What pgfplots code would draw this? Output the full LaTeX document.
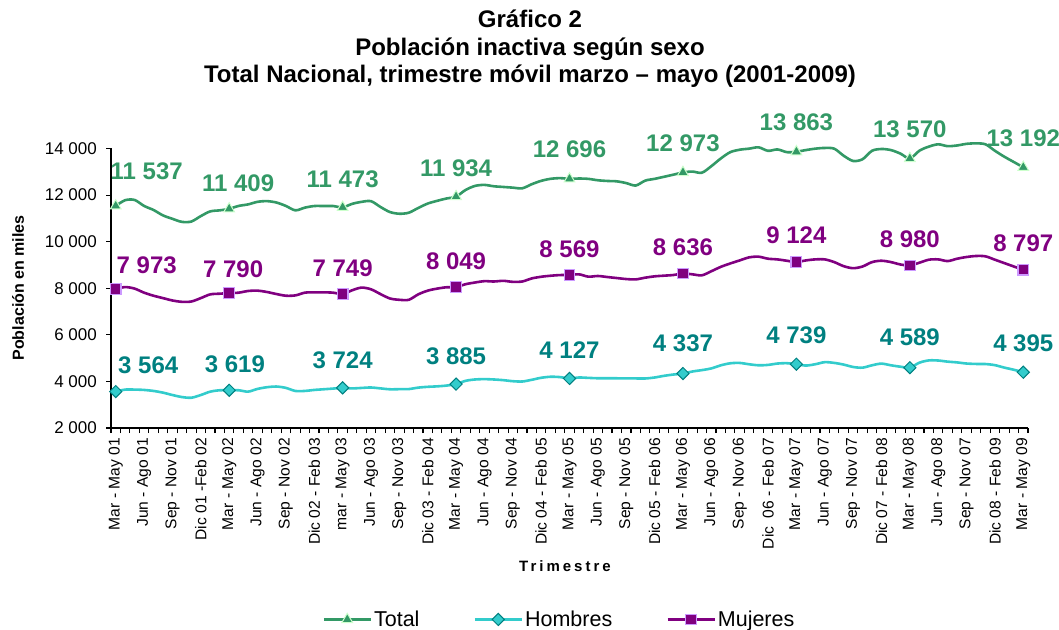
\documentclass[border=0pt]{standalone}
\usepackage{fontspec}
\setmainfont{Liberation Sans}
\newfontfamily\spaced[LetterSpace=20]{Liberation Sans}
\usepackage{pgfplots}
\pgfplotsset{compat=1.18}
\definecolor{cT}{HTML}{339966}
\definecolor{cTb}{HTML}{CCFFCC}
\definecolor{cH}{HTML}{33CCCC}
\definecolor{cHb}{HTML}{008080}
\definecolor{cM}{HTML}{800080}
\definecolor{cMb}{HTML}{CC99FF}
\newcommand{\lab}{\fontsize{24}{24}\selectfont\bfseries}
\begin{document}
\begin{tikzpicture}[x=1pt,y=1pt]
\begin{axis}[at={(111pt,201pt)}, anchor=south west, width=917pt, height=279.5pt, scale only axis,
  xmin=-0.5, xmax=96.5, ymin=2000, ymax=14000, clip=false,
  scaled x ticks=false, scaled y ticks=false,
  axis lines*=left, axis line style={line width=1.3pt, black},
  tick align=outside, major tick length=5pt,
  tick style={line width=1.1pt, black},
  xtick={-0.5,0.5,...,96.5}, xticklabels={},
  extra x ticks={0,3,...,96},
  extra x tick style={major tick length=0pt},
  extra x tick labels={Mar - May 01,Jun - Ago 01,Sep - Nov 01,Dic 01 -Feb 02,Mar - May 02,Jun - Ago 02,Sep - Nov 02,Dic 02 - Feb 03,mar - May 03,Jun - Ago 03,Sep - Nov 03,Dic 03 - Feb 04,Mar - May 04,Jun - Ago 04,Sep - Nov 04,Dic 04 - Feb 05,Mar - May 05,Jun - Ago 05,Sep - Nov 05,Dic 05 - Feb 06,Mar - May 06,Jun - Ago 06,Sep - Nov 06,Dic\ \ 06 - Feb 07,Mar - May 07,Jun - Ago 07,Sep - Nov 07,Dic 07 - Feb 08,Mar - May 08,Jun - Ago 08,Sep - Nov 07,Dic 08 - Feb 09,Mar - May 09},
  xticklabel style={rotate=90, anchor=east, font=\fontsize{15.6}{16}\selectfont, inner sep=0pt, xshift=-10pt},
  ytick={2000,4000,...,14000},
  yticklabels={2 000,4 000,6 000,8 000,10 000,12 000,14 000},
  yticklabel style={font=\fontsize{17}{18}\selectfont, inner sep=0pt, xshift=-9pt},
  legend style={at={(0.489,-0.685)}, anchor=center, draw=none, fill=none, legend columns=3,
    font=\fontsize{21.5}{22}\selectfont, /tikz/every even column/.append style={column sep=52pt}},
  legend image code/.code={\draw[#1, mark repeat=2, mark phase=2] plot coordinates {(0pt,0pt)(23.5pt,0pt)(47pt,0pt)};},
]
\addplot[cT, line width=2.6pt, smooth, tension=0.5, mark=triangle*, mark repeat=12, mark phase=1, mark size=6.2pt,
  mark options={fill=cT, draw=cTb, line width=1pt, solid}] table {
0 11537
1 11780
2 11790
3 11534
4 11360
5 11127
6 10980
7 10850
8 10865
9 11098
10 11300
11 11345
12 11409
13 11534
14 11600
15 11710
16 11740
17 11680
18 11534
19 11345
20 11460
21 11530
22 11530
23 11530
24 11473
25 11622
26 11709
27 11738
28 11491
29 11272
30 11200
31 11243
32 11447
33 11636
34 11753
35 11854
36 11934
37 12218
38 12393
39 12437
40 12378
41 12349
42 12320
43 12291
44 12466
45 12611
46 12698
47 12727
48 12696
49 12711
50 12696
51 12636
52 12606
53 12590
54 12515
55 12410
56 12620
57 12696
58 12786
59 12877
60 12973
61 13010
62 12960
63 13240
64 13570
65 13842
66 13948
67 13993
68 14050
69 13900
70 13960
71 13842
72 13863
73 13932
74 13993
75 14023
76 13993
77 13690
78 13465
79 13540
80 13902
81 13978
82 13932
83 13782
84 13570
85 13902
86 14080
87 14180
88 14100
89 14130
90 14200
91 14220
92 14180
93 13902
94 13646
95 13420
96 13192
};
\addlegendentry{Total}
\addplot[cH, line width=2.6pt, smooth, tension=0.5, mark=square*, mark repeat=12, mark phase=1, mark size=4.3pt,
  mark options={fill=cH, draw=cHb, line width=1pt, solid, rotate=45}] table {
0 3564
1 3649
2 3649
3 3634
4 3591
5 3518
6 3416
7 3329
8 3300
9 3416
10 3561
11 3620
12 3619
13 3620
14 3561
15 3678
16 3751
17 3780
18 3722
19 3591
20 3591
21 3634
22 3663
23 3693
24 3724
25 3700
26 3720
27 3739
28 3701
29 3662
30 3667
31 3671
32 3734
33 3768
34 3788
35 3822
36 3885
37 4025
38 4083
39 4098
40 4083
41 4054
42 4010
43 3996
44 4069
45 4156
46 4200
47 4185
48 4127
49 4168
50 4152
51 4136
52 4134
53 4134
54 4130
55 4128
56 4126
57 4168
58 4240
59 4296
60 4337
61 4426
62 4485
63 4558
64 4690
65 4778
66 4793
67 4736
68 4693
69 4709
70 4767
71 4782
72 4739
73 4681
74 4738
75 4826
76 4795
77 4723
78 4620
79 4591
80 4693
81 4764
82 4692
83 4632
84 4589
85 4803
86 4901
87 4897
88 4849
89 4816
90 4768
91 4750
92 4746
93 4698
94 4592
95 4501
96 4395
};
\addlegendentry{Hombres}
\addplot[cM, line width=2.6pt, smooth, tension=0.5, mark=square*, mark repeat=12, mark phase=1, mark size=5.3pt,
  mark options={fill=cM, draw=cMb, line width=1.2pt, solid}] table {
0 7973
1 8050
2 7984
3 7810
4 7679
5 7577
6 7475
7 7417
8 7431
9 7577
10 7737
11 7766
12 7790
13 7810
14 7882
15 7897
16 7839
17 7751
18 7679
19 7693
20 7810
21 7824
22 7824
23 7810
24 7749
25 7912
26 8028
27 7955
28 7751
29 7562
30 7504
31 7504
32 7737
33 7897
34 7984
35 8042
36 8049
37 8173
38 8246
39 8304
40 8290
41 8319
42 8275
43 8290
44 8421
45 8493
46 8537
47 8566
48 8569
49 8598
50 8497
51 8526
52 8482
53 8438
54 8395
55 8380
56 8453
57 8511
58 8540
59 8569
60 8636
61 8598
62 8555
63 8730
64 8918
65 9064
66 9195
67 9326
68 9355
69 9268
70 9238
71 9180
72 9124
73 9195
74 9239
75 9239
76 9123
77 8948
78 8861
79 8934
80 9123
81 9181
82 9123
83 9021
84 8980
85 9094
86 9225
87 9239
88 9166
89 9268
90 9341
91 9385
92 9370
93 9225
94 9079
95 8934
96 8797
};
\addlegendentry{Mujeres}
% data labels Total
\node[font=\lab, text=cT, xshift=31pt, yshift=35pt] at (axis cs:0,11537) {11 537};
\node[font=\lab, text=cT, xshift=9pt, yshift=26pt] at (axis cs:12,11409) {11 409};
\node[font=\lab, text=cT, yshift=28pt] at (axis cs:24,11473) {11 473};
\node[font=\lab, text=cT, yshift=28pt] at (axis cs:36,11934) {11 934};
\node[font=\lab, text=cT, yshift=30pt] at (axis cs:48,12696) {12 696};
\node[font=\lab, text=cT, yshift=29pt] at (axis cs:60,12973) {12 973};
\node[font=\lab, text=cT, yshift=29pt] at (axis cs:72,13863) {13 863};
\node[font=\lab, text=cT, yshift=29pt] at (axis cs:84,13570) {13 570};
\node[font=\lab, text=cT, yshift=29pt] at (axis cs:96,13192) {13 192};
% data labels Mujeres
\node[font=\lab, text=cM, xshift=31pt, yshift=24pt] at (axis cs:0,7973) {7 973};
\node[font=\lab, text=cM, xshift=4pt, yshift=24pt] at (axis cs:12,7790) {7 790};
\node[font=\lab, text=cM, yshift=25.6pt] at (axis cs:24,7749) {7 749};
\node[font=\lab, text=cM, yshift=25.7pt] at (axis cs:36,8049) {8 049};
\node[font=\lab, text=cM, yshift=26pt] at (axis cs:48,8569) {8 569};
\node[font=\lab, text=cM, yshift=26pt] at (axis cs:60,8636) {8 636};
\node[font=\lab, text=cM, yshift=27pt] at (axis cs:72,9124) {9 124};
\node[font=\lab, text=cM, yshift=26pt] at (axis cs:84,8980) {8 980};
\node[font=\lab, text=cM, yshift=26pt] at (axis cs:96,8797) {8 797};
% data labels Hombres
\node[font=\lab, text=cHb, xshift=32.5pt, yshift=26pt] at (axis cs:0,3564) {3 564};
\node[font=\lab, text=cHb, xshift=5.7pt, yshift=26pt] at (axis cs:12,3619) {3 619};
\node[font=\lab, text=cHb, yshift=28pt] at (axis cs:24,3724) {3 724};
\node[font=\lab, text=cHb, yshift=28pt] at (axis cs:36,3885) {3 885};
\node[font=\lab, text=cHb, yshift=28pt] at (axis cs:48,4127) {4 127};
\node[font=\lab, text=cHb, yshift=30pt] at (axis cs:60,4337) {4 337};
\node[font=\lab, text=cHb, yshift=29pt] at (axis cs:72,4739) {4 739};
\node[font=\lab, text=cHb, yshift=30pt] at (axis cs:84,4589) {4 589};
\node[font=\lab, text=cHb, yshift=29pt] at (axis cs:96,4395) {4 395};
\end{axis}
\node[align=center, font=\fontsize{24}{27.5}\selectfont\bfseries] at (530,580) {Gráfico 2\\Población inactiva según sexo\\Total Nacional, trimestre móvil marzo – mayo (2001-2009)};
\node[font=\fontsize{15}{16}\selectfont\bfseries\spaced] at (565,63) {Trimestre};
\node[rotate=90, font=\fontsize{16}{17}\selectfont\bfseries] at (18,341) {Población en miles};
\pgfresetboundingbox
\useasboundingbox (0,0) rectangle (1059,629);
\end{tikzpicture}
\end{document}
